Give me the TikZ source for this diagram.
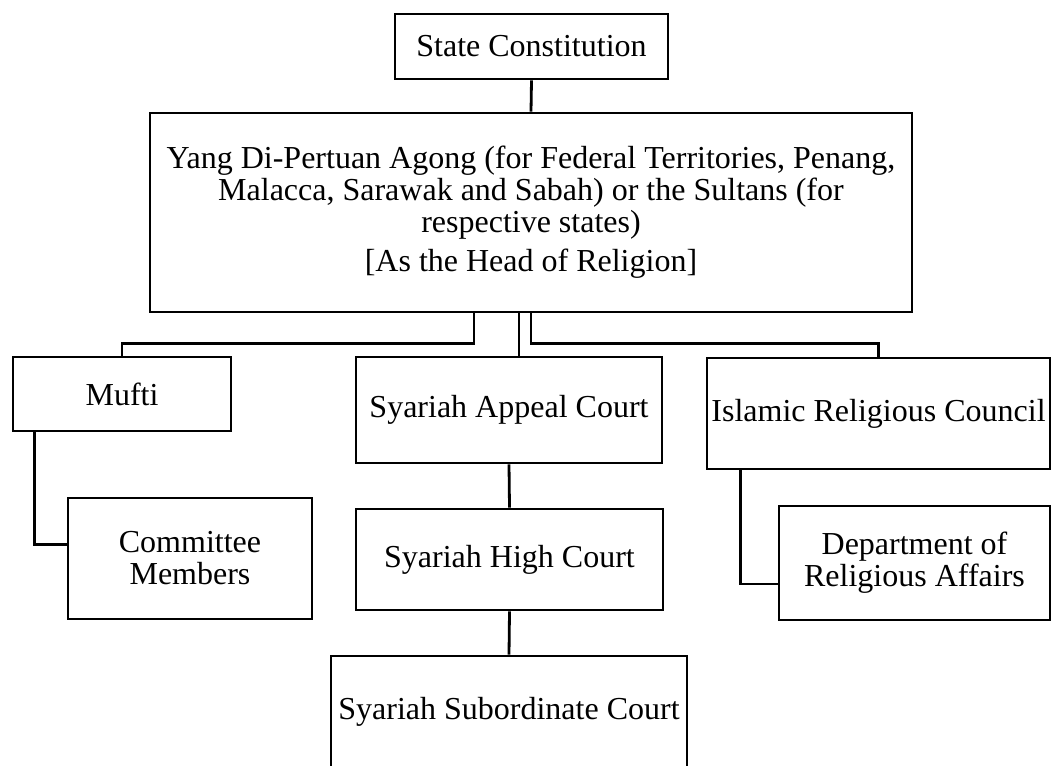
\documentclass[tikz,border=0pt]{standalone}
\usepackage{fontspec}
\setmainfont{Liberation Serif}
\usepackage{tikz}

\begin{document}
\begin{tikzpicture}[x=0.5pt, y=-0.5pt,
    box/.style={draw, line width=1.4pt, inner sep=0pt, align=center,
        font=\fontsize{16pt}{16pt}\selectfont},
    link/.style={line width=1.4pt}]
    \useasboundingbox (0,0) rectangle (1053,765);
    \clip (0,0) rectangle (1053,765);
    % Top of the chart
    \node[box, minimum width=136.5pt, minimum height=32.5pt] (sc) at (531.5,46.5) {State Constitution};
    \node[box, minimum width=381pt, minimum height=99.5pt] (head) at (531,212.5)
        {Yang Di-Pertuan Agong (for Federal Territories, Penang,\\
         Malacca, Sarawak and Sabah) or the Sultans (for\\
         respective states)\\[3.5pt]
         {[As the Head of Religion]}};
    % Second row
    \node[box, minimum width=109pt, minimum height=37pt] (mufti) at (122,394) {Mufti};
    \node[box, minimum width=153pt, minimum height=53pt] (appeal) at (509,410) {Syariah Appeal Court};
    \node[box, minimum width=171.5pt, minimum height=55.5pt] (council) at (878.5,413.5) {Islamic Religious Council};
    % Lower rows
    \node[box, minimum width=122pt, minimum height=60.5pt] (committee) at (190,558.5) {Committee\\Members};
    \node[box, minimum width=153.5pt, minimum height=50.5pt] (high) at (509.5,559.5) {Syariah High Court};
    \node[box, minimum width=135.5pt, minimum height=57pt] (dept) at (914.5,563) {Department of\\Religious Affairs};
    \node[box, minimum width=178pt, minimum height=56pt] (sub) at (509,712) {Syariah Subordinate Court};
    % Connectors
    \draw[link] (sc.south) -- (head.north);
    \draw[link] ([xshift=-28.5pt]head.south) -- ++(0,-15pt) -| (mufti.north);
    \draw[link] ([xshift=-6pt]head.south) -- ([xshift=-6pt]head.south |- appeal.north);
    \draw[link] (head.south) -- ++(0,-15pt) -| (council.north);
    \draw[link] (appeal.south) -- (high.north);
    \draw[link] (high.south) -- (sub.north);
    \draw[link] ([xshift=11.5pt]mufti.south west) |- ([yshift=7pt]committee.west);
    \draw[link] ([xshift=17.5pt]council.south west) |- ([yshift=-10.5pt]dept.west);
\end{tikzpicture}
\end{document}
